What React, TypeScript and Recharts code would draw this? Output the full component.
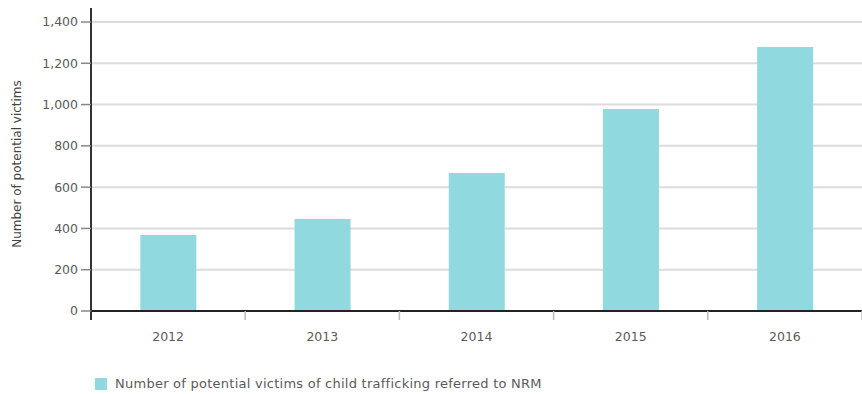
import React from 'react';
import { BarChart, Bar, XAxis, YAxis, CartesianGrid, Legend, ReferenceLine } from 'recharts';

const years = ['2012', '2013', '2014', '2015', '2016'];
const victims = [368, 446, 669, 979, 1279];
const yTicks = [0, 200, 400, 600, 800, 1000, 1200, 1400];

const seriesName = 'Number of potential victims of child trafficking referred to NRM';
const barColor = '#8fd9df';
const font = '"DejaVu Sans", Verdana, sans-serif';
const textColor = '#5a5a5a';

const W = 862;
const H = 394;
const AXIS_LEFT = 91;
const BAND = (W - AXIS_LEFT) / years.length;

const data = years.map((year, i) => ({ year, value: victims[i] }));

const fmt = (v: number) => v.toLocaleString('en-US');

const XTick = (props: any) => {
  const { x, y, payload } = props;
  return (
    <g>
      <line x1={x + BAND / 2} x2={x + BAND / 2} y1={y - 17} y2={y - 8} stroke="#bbb" strokeWidth={1.5} />
      <text x={x} y={y + 13} textAnchor="middle" fill={textColor} fontSize={12.5} fontFamily={font}>
        {payload.value}
      </text>
    </g>
  );
};

const LegendContent = () => (
  <div
    style={{
      display: 'flex',
      alignItems: 'center',
      paddingLeft: 95,
      fontFamily: font,
      fontSize: 13,
      letterSpacing: 0.25,
      lineHeight: '16px',
      color: textColor,
    }}
  >
    <span style={{ display: 'inline-block', width: 12, height: 12, background: barColor, marginRight: 8 }} />
    <span>{seriesName}</span>
  </div>
);

export default function App() {
  return (
    <div style={{ position: 'absolute', top: 0, left: 0, width: W, height: H, background: '#fff' }}>
      <BarChart width={W} height={H} data={data} margin={{ top: 8, right: 0, bottom: 0, left: 0 }} barCategoryGap="32%">
        <CartesianGrid vertical={false} horizontalValues={yTicks.slice(1)} stroke="#dcdcdc" strokeWidth={2} />
        <XAxis
          dataKey="year"
          axisLine={false}
          tickLine={false}
          tick={<XTick />}
          height={56}
          interval={0}
        />
        <YAxis
          width={AXIS_LEFT}
          domain={[-43.6, 1467.8]}
          ticks={yTicks}
          tickFormatter={fmt}
          allowDataOverflow
          axisLine={{ stroke: '#333', strokeWidth: 2 }}
          tickLine={{ stroke: '#888', strokeWidth: 1.5 }}
          tickSize={10}
          tickMargin={3}
          tick={{ fill: textColor, fontSize: 12.5, fontFamily: font }}
          label={{
            value: 'Number of potential victims',
            angle: -90,
            position: 'insideLeft',
            dx: 12,
            dy: 0,
            style: { fill: '#444', fontSize: 12, fontFamily: font, textAnchor: 'middle' },
          }}
        />
        <ReferenceLine y={0} stroke="#222" strokeWidth={2} />
        <Legend verticalAlign="bottom" height={18} content={<LegendContent />} />
        <Bar dataKey="value" name={seriesName} fill={barColor} isAnimationActive={false} />
      </BarChart>
    </div>
  );
}
